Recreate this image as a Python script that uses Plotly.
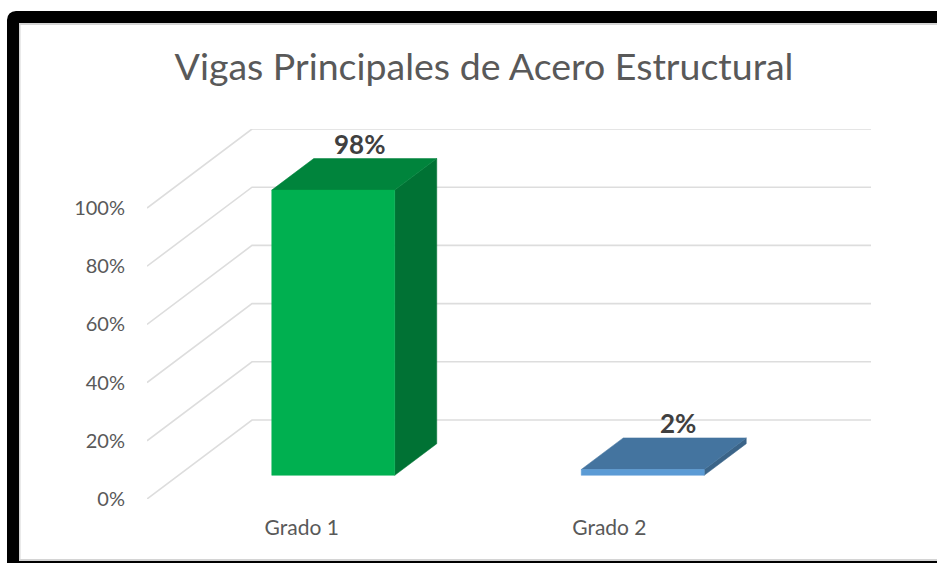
import plotly.graph_objects as go

W, H = 937, 563

# data
categories = ["Grado 1", "Grado 2"]
values = [98, 2]
value_labels = ["98%", "2%"]
y_ticks = [0, 20, 40, 60, 80, 100]
y_tick_labels = ["0%", "20%", "40%", "60%", "80%", "100%"]

# colours per bar: front, top, side
front_colors = ["#00B050", "#5B9BD5"]
top_colors = ["#00843C", "#44749F"]
side_colors = ["#007234", "#3B6488"]
label_shift = [-16, -7]

# fake 3D projection, in axis units
DEPTH_X = 105 / 309.5
DEPTH_Y = 79 / 2.91
BAR_W = 123 / 309.5
Z0, Z1 = 0.30, 0.70

# plot area in pixels
L, R, T, B = 147, 871, 129, 499


def proj(x, y, z):
    return x + DEPTH_X * z, y + DEPTH_Y * z


def face(points, color):
    xs, ys = zip(*[proj(*p) for p in points])
    return go.Scatter(
        x=list(xs) + [xs[0]], y=list(ys) + [ys[0]],
        mode="lines", fill="toself", fillcolor=color,
        line=dict(color=color, width=0.5), hoverinfo="skip", showlegend=False,
    )


def px_x(v):
    return (v - L) / (R - L)


def px_y(v):
    return (B - v) / (B - T)


fig = go.Figure()

# gridlines: side wall then back wall
grid_x, grid_y = [], []
for t in y_ticks:
    for p in [(-0.5, t, 0), (-0.5, t, 1), (1.5, t, 1)]:
        px, py = proj(*p)
        grid_x.append(px)
        grid_y.append(py)
    grid_x.append(None)
    grid_y.append(None)
fig.add_trace(go.Scatter(
    x=grid_x, y=grid_y, mode="lines", line=dict(color="#DDDDDD", width=1.6),
    hoverinfo="skip", showlegend=False, cliponaxis=False,
))

annotations = []
for i, v in enumerate(values):
    x0, x1 = i - BAR_W / 2, i + BAR_W / 2
    fig.add_trace(face([(x1, 0, Z0), (x1, 0, Z1), (x1, v, Z1), (x1, v, Z0)], side_colors[i]))
    fig.add_trace(face([(x0, v, Z0), (x0, v, Z1), (x1, v, Z1), (x1, v, Z0)], top_colors[i]))
    fig.add_trace(face([(x0, 0, Z0), (x1, 0, Z0), (x1, v, Z0), (x0, v, Z0)], front_colors[i]))
    lx, ly = proj(i, v, Z1)
    annotations.append(dict(
        x=lx, y=ly, xref="x", yref="y", text="<b>" + value_labels[i] + "</b>", showarrow=False,
        xshift=label_shift[i], yshift=15, font=dict(family="Lato", size=26, color="#404040"),
    ))

# black screenshot frame with small rounded corner
frame = "M %f,%f L %f,%f Q %f,%f %f,%f L %f,%f" % (
    px_x(W + 20), px_y(17), px_x(16), px_y(17), px_x(13), px_y(17),
    px_x(13), px_y(20), px_x(13), px_y(H + 20),
)
inner = "M %f,%f L %f,%f L %f,%f L %f,%f" % (
    px_x(W + 20), px_y(24), px_x(19.5), px_y(24), px_x(19.5), px_y(560), px_x(W + 20), px_y(560),
)
shapes = [
    dict(type="path", path=inner, xref="paper", yref="paper", line=dict(color="#D4D4D4", width=2)),
    dict(type="path", path=frame, xref="paper", yref="paper", line=dict(color="#000000", width=12)),
    dict(type="line", xref="paper", yref="paper", x0=px_x(7), x1=px_x(W + 20), y0=px_y(563), y1=px_y(563),
         line=dict(color="#000000", width=4)),
]

fig.update_layout(
    width=W, height=H,
    margin=dict(l=L, r=W - R, t=T, b=H - B),
    paper_bgcolor="white", plot_bgcolor="white",
    showlegend=False,
    title=dict(
        text="Vigas Principales de Acero Estructural",
        x=484 / W, xanchor="center", y=1 - 67 / H, yanchor="middle", yref="container",
        font=dict(family="Lato", size=37.5, color="#595959"),
    ),
    xaxis=dict(
        range=[-0.5, 1.5 + DEPTH_X], tickvals=[0, 0.994], ticktext=categories,
        showgrid=False, zeroline=False, showline=False,
        ticks="outside", ticklen=10, tickcolor="rgba(0,0,0,0)",
        tickfont=dict(family="Lato", size=21, color="#595959"),
    ),
    yaxis=dict(
        range=[0, 100 + DEPTH_Y], tickvals=y_ticks, ticktext=y_tick_labels,
        showgrid=False, zeroline=False, showline=False,
        ticks="outside", ticklen=17, tickcolor="rgba(0,0,0,0)",
        tickfont=dict(family="Lato", size=20, color="#595959"),
    ),
    annotations=annotations,
    shapes=shapes,
)

fig.write_html(
    "out.html",
    config={"displayModeBar": False},
    post_script="document.body.style.margin='0';document.body.style.overflow='hidden';",
)
